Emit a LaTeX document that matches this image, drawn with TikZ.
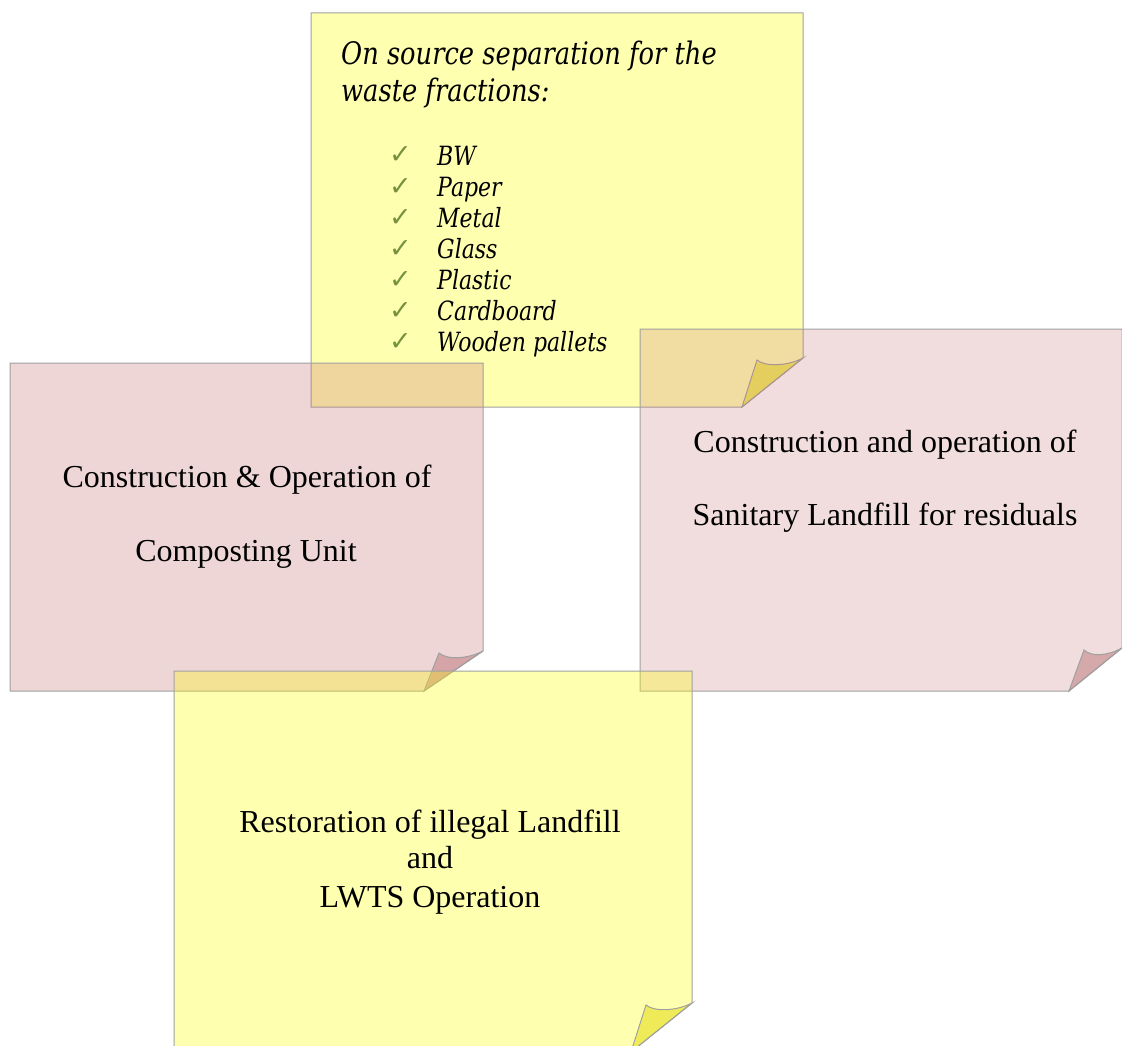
\documentclass[tikz,border=0pt]{standalone}
\usepackage{fontspec}
\setmainfont{Liberation Serif}
\newfontfamily\camit{DejaVu Serif}[FakeStretch=0.83]
\newfontfamily\symf{DejaVu Sans}
\definecolor{noteyellow}{HTML}{FFFF00}
\definecolor{notepink}{HTML}{C47272}
\definecolor{curlyellow}{HTML}{E0D800}
\definecolor{curlpink}{HTML}{BB7377}
\definecolor{noteedge}{HTML}{A0A0A0}
\definecolor{checkgreen}{HTML}{76923C}
\tikzset{
  yellowbody/.style={draw=noteedge,line width=1pt,fill=noteyellow,fill opacity=0.31},
  pinkbody/.style={draw=noteedge,line width=1pt,fill=notepink,fill opacity=0.29},
  pinkbodylight/.style={draw=noteedge,line width=1pt,fill=notepink,fill opacity=0.24},
  yellowcurl/.style={draw=noteedge,line width=1pt,fill=curlyellow,fill opacity=0.5},
  pinkcurl/.style={draw=noteedge,line width=1pt,fill=curlpink,fill opacity=0.5},
  bigtext/.style={font=\fontsize{32}{37}\selectfont,inner sep=0pt},
  headtext/.style={font=\camit\itshape\fontsize{31}{37}\selectfont,inner sep=0pt,anchor=base west},
  itemtext/.style={font=\camit\itshape\fontsize{26.5}{31}\selectfont,inner sep=0pt,anchor=base west},
  checktext/.style={font=\symf\fontsize{27}{30}\selectfont,text=checkgreen,inner sep=0pt,anchor=base west}
}
% #1 left, #2 top, #3 right, #4 bottom, #5 fold dx, #6 fold dy, #7 body style, #8 curl style
\newcommand\stickynote[8]{%
  \path[#7] (#1,#2) -- (#3,#2) -- (#3,{#4-#6}) -- ({#3-#5},#4) -- (#1,#4) -- cycle;
  \path[#8] (#3,{#4-#6}) .. controls ({#3-15},{#4-#6+8}) and ({#3-#5+23},{#4-#6+9}) .. ({#3-#5+15},{#4-#6+2}) -- ({#3-#5},#4) -- cycle;
}
\begin{document}
\begin{tikzpicture}[x=1pt,y=-1pt]
\useasboundingbox (0,0) rectangle (1122,1046);
% top note
\stickynote{311}{13}{803}{407}{61}{49}{yellowbody}{yellowcurl}
\node[headtext] (head1) at (341,65) {On source separation for the};
\node[headtext] (head2) at (341,102) {waste fractions:};
\foreach \t [count=\i] in {BW,Paper,Metal,Glass,Plastic,Cardboard,Wooden pallets}{
  \node[checktext] (ck\i) at (389,{164+31.15*(\i-1)}) {✓};
  \node[itemtext] (it\i) at (437,{165+31.15*(\i-1)}) {\t};
}
% left note
\stickynote{10}{363}{483}{691}{59}{40}{pinkbody}{pinkcurl}
\node[bigtext,anchor=base] (comp1) at (247,487) {Construction \& Operation of};
\node[bigtext,anchor=base] (comp2) at (246,561) {Composting Unit};
% right note
\stickynote{640}{329}{1122}{691}{53}{43}{pinkbodylight}{pinkcurl}
\node[bigtext,anchor=base] (land1) at (885,452) {Construction and operation of};
\node[bigtext,anchor=base] (land2) at (885,525) {Sanitary Landfill for residuals};
% bottom note
\stickynote{174}{671}{692}{1052}{61}{49}{yellowbody}{yellowcurl}
\node[bigtext,anchor=base] (rest1) at (430,832) {Restoration of illegal Landfill};
\node[bigtext,anchor=base] (rest2) at (430,868) {and};
\node[bigtext,anchor=base] (rest3) at (430,907) {LWTS Operation};
\end{tikzpicture}
\end{document}
